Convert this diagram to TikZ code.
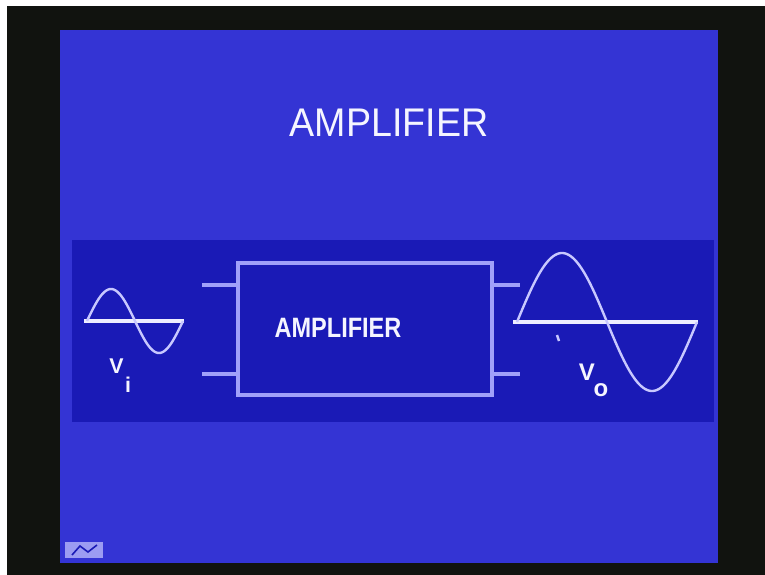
\documentclass[tikz,border=0pt]{standalone}
\usepackage{fontspec}
\setmainfont{Liberation Sans}
\usetikzlibrary{positioning}
\definecolor{frame}{RGB}{17,19,15}
\definecolor{slide}{RGB}{52,52,212}
\definecolor{band}{RGB}{26,26,182}
\definecolor{wire}{RGB}{160,160,250}
\definecolor{wave}{RGB}{200,200,255}
\definecolor{txt}{RGB}{245,245,255}

\begin{document}
\begin{tikzpicture}[x=0.75pt, y=-0.75pt,
    wire/.style={draw=wire, line width=2.6pt},
    wave/.style={draw=wave, line width=1.8pt, line join=round},
    axisline/.style={draw=txt!85!wave, line width=2.6pt},
    lbl/.style={text=txt, inner sep=0pt, font=\bfseries\fontsize{#1}{#1}\selectfont}]
  \useasboundingbox (0,0) rectangle (765,575);
  %% Frame, slide and band
  \fill[white] (0,0) rectangle (765,575);
  \fill[frame] (7,6) rectangle (765,575);
  \fill[slide] (60,30) rectangle (718,563);
  \fill[band] (72,240) rectangle (714,422);
  %% Title
  \node[text=txt, inner sep=0pt, font=\fontsize{30}{30}\selectfont] (title) at (389,123)
    {\scalebox{0.94}[1]{AMPLIFIER}};
  %% Amplifier block
  \node[wire, fill=band, minimum width=190.5pt, minimum height=99pt, inner sep=0pt]
    (amp) at (365,329) {};
  \node[lbl=21] (ampname) at (338,328) {\scalebox{0.84}[1]{AMPLIFIER}};
  %% Leads
  \coordinate (inA)  at (202,285);
  \coordinate (inB)  at (202,374);
  \coordinate (outA) at (520,285);
  \coordinate (outB) at (520,374);
  \foreach \c in {inA,inB}
    \draw[wire] (\c) -- (\c -| amp.west);
  \foreach \c in {outA,outB}
    \draw[wire] (\c -| amp.east) -- (\c);
  %% Input wave
  \draw[axisline] (84,321) -- (184,321);
  \draw[wave] plot[domain=0:360, samples=61, smooth] ({87+\x/360*96}, {321-32*sin(\x)});
  \node[lbl=16] (vi)    at (116.5,366.5) {V};
  \node[lbl=16] (visub) at (128,385) {i};
  %% Output wave
  \draw[axisline] (513,322) -- (698,322);
  \draw[wave] plot[domain=0:360, samples=91, smooth] ({517+\x/2}, {322-69*sin(\x)});
  \node[lbl=18] (vo)    at (587,372) {V};
  \node[lbl=18] (vosub) at (601,390) {o};
  \draw[wave, line width=1.8pt] (557,335) -- (559,341);
  %% Corner logo
  \fill[wave!70!slide] (65,542) rectangle (103,558);
  \draw[band, line width=1.2pt] (72,555) -- (80,546) -- (88,552) -- (97,545);
\end{tikzpicture}
\end{document}
